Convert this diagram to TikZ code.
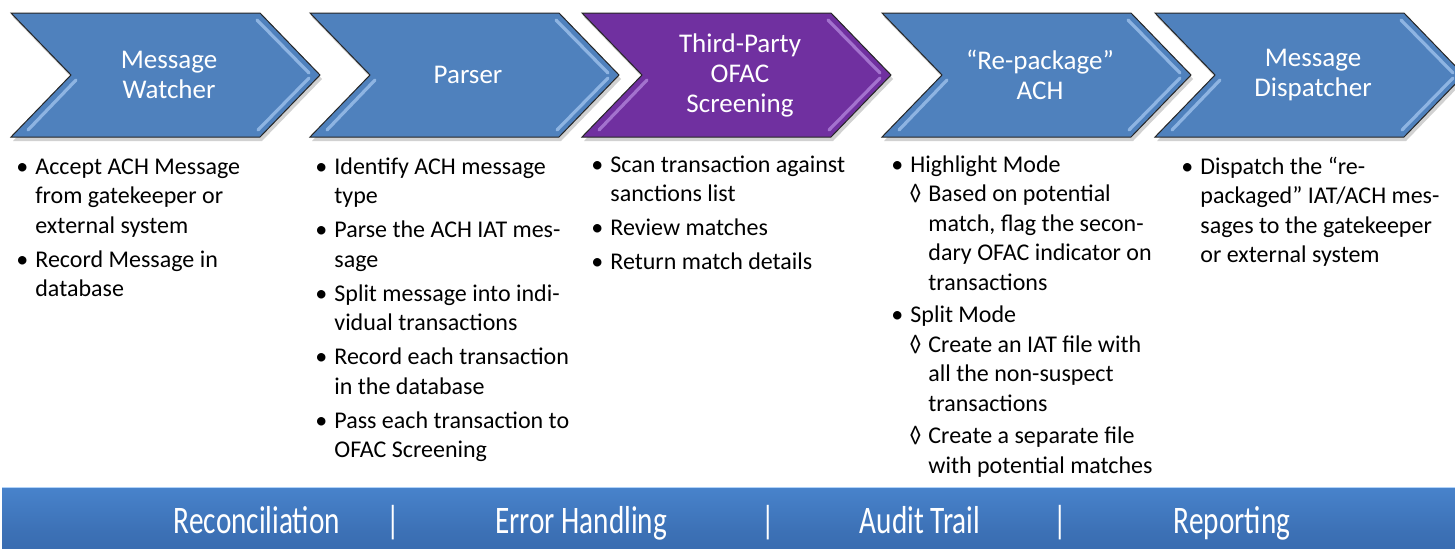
\documentclass[tikz,border=0pt]{standalone}
\usepackage{fontspec}
\setmainfont{Carlito}
\newfontfamily\barfont[FakeStretch=0.75]{Carlito}
\definecolor{chevblue}{HTML}{4F81BD}
\definecolor{chevpurple}{HTML}{7030A0}
\definecolor{hiblue}{HTML}{A9CBF2}
\definecolor{hipurple}{HTML}{B98FE2}
\definecolor{bardark}{HTML}{3464A6}
\definecolor{barmid}{HTML}{4883CC}
\definecolor{barlight}{HTML}{8FC0F6}
\pgfdeclareverticalshading{barshade}{100bp}{color(0bp)=(bardark); color(40bp)=(bardark!60!barmid); color(75bp)=(barmid); color(88bp)=(barmid!60!barlight); color(96bp)=(barlight); color(100bp)=(barlight)}
\newcommand{\bitem}[1]{\par\hangindent=9.5pt\hangafter=1\noindent\makebox[6pt][c]{•}\hspace{3.5pt}#1\par\vspace{2.25pt}}
\newcommand{\ditem}[1]{\par\hangindent=18.5pt\hangafter=1\noindent\hspace*{9pt}\makebox[6pt][c]{◊}\hspace{3.5pt}#1\par\vspace{1.5pt}}
\newcommand{\drawchev}[4]{%
  % #1 left x, #2 fill, #3 highlight, #4 name
  \fill[black, opacity=0.18] (#1+2,17) -- (#1+251,17) -- (#1+311,79) -- (#1+251,141) -- (#1+2,141) -- (#1+62,79) -- cycle;
  \draw[chevedge, fill=#2] (#1,13) -- (#1+249,13) -- (#1+309,75) -- (#1+249,137) -- (#1,137) -- (#1+60,75) -- cycle;
  \draw[chevhi, draw=#3] (#1+246,20) -- (#1+298,73);
  \draw[chevhi, draw=#3] (#1+298,78) -- (#1+247,130);
  \draw[chevhi, draw=#3] (#1+65,80) -- (#1+17,130);
  \coordinate (#4) at (#1+158,75);
}
\begin{document}
\begin{tikzpicture}[x=0.5pt, y=-0.5pt,
  chevedge/.style={draw=black!85, line width=0.5pt, line join=miter},
  chevhi/.style={line width=1.6pt, line cap=round, opacity=0.7},
  title/.style={text=white, align=center, inner sep=0pt, font=\fontsize{13.5}{15}\selectfont},
  coltext/.style={anchor=base west, inner sep=0pt, text=black},
  bartext/.style={anchor=base, inner sep=0pt, text=white, font=\barfont\fontsize{19.5}{20}\selectfont}]
\clip (0,0) rectangle (1455,548);
\useasboundingbox (0,0) rectangle (1455,548);
\fill[white] (0,0) rectangle (1455,548);

% chevrons
\drawchev{11}{chevblue}{hiblue}{c1}
\drawchev{310}{chevblue}{hiblue}{c2}
\drawchev{582}{chevpurple}{hipurple}{c3}
\drawchev{882}{chevblue}{hiblue}{c4}
\drawchev{1155}{chevblue}{hiblue}{c5}

\node[title] (t1) at (c1) {Message\\Watcher};
\node[title] (t2) at (c2) {Parser};
\node[title] (t3) at (c3) {Third-Party\\OFAC\\Screening};
\node[title] (t4) at (c4) {“Re-package”\\ACH};
\node[title] (t5) at (c5) {Message\\Dispatcher};

% descriptions
\node[coltext] (d1) at (16,174) {\parbox[t]{140pt}{\fontsize{12}{14.75}\selectfont
  \bitem{Accept ACH Message\newline from gatekeeper or\newline external system}
  \bitem{Record Message in\newline database}}};
\node[coltext] (d2) at (315,174) {\parbox[t]{140pt}{\fontsize{12}{14.75}\selectfont
  \bitem{Identify ACH message\newline type}
  \bitem{Parse the ACH IAT mes-\newline sage}
  \bitem{Split message into indi-\newline vidual transactions}
  \bitem{Record each transaction\newline in the database}
  \bitem{Pass each transaction to\newline OFAC Screening}}};
\node[coltext] (d3) at (591,172) {\parbox[t]{140pt}{\fontsize{12}{14.75}\selectfont
  \bitem{Scan transaction against\newline sanctions list}
  \bitem{Review matches}
  \bitem{Return match details}}};
\node[coltext] (d4) at (891,172) {\parbox[t]{150pt}{\fontsize{12}{14.75}\selectfont
  \bitem{Highlight Mode}\vspace{-2.25pt}
  \ditem{Based on potential\newline match, flag the secon-\newline dary OFAC indicator on\newline transactions}
  \bitem{Split Mode}\vspace{-2.25pt}
  \ditem{Create an IAT file with\newline all the non-suspect\newline transactions}
  \ditem{Create a separate file\newline with potential matches}}};
\node[coltext] (d5) at (1181,174) {\parbox[t]{140pt}{\fontsize{12}{14.75}\selectfont
  \bitem{Dispatch the “re-\newline packaged” IAT/ACH mes-\newline sages to the gatekeeper\newline or external system}}};

% bottom bar
\shade[shading=barshade] (2,487) rectangle (1460,552);
\draw[barlight!70!white, line width=0.6pt] (2,487.5) -- (1460,487.5);
\node[bartext] (b1) at (257,533) {Reconciliation};
\node[bartext] (s1) at (393,533) {|};
\node[bartext] (b2) at (581,533) {Error Handling};
\node[bartext] (s2) at (768,533) {|};
\node[bartext] (b3) at (920,533) {Audit Trail};
\node[bartext] (s3) at (1060,533) {|};
\node[bartext] (b4) at (1232,533) {Reporting};
\end{tikzpicture}
\end{document}
